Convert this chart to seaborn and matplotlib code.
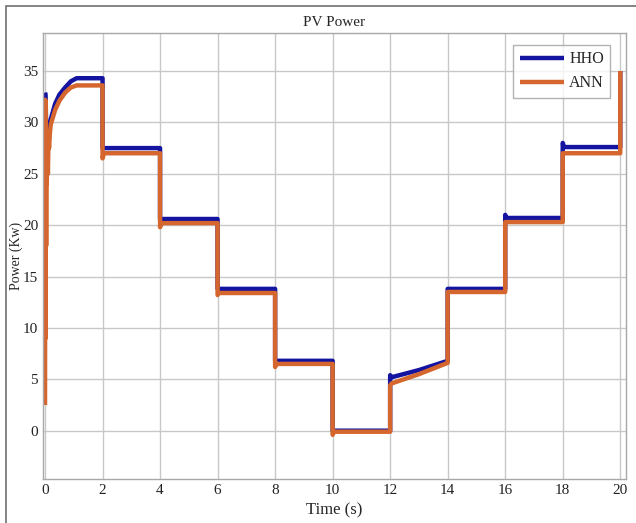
import numpy as np
import pandas as pd
import seaborn as sns
import matplotlib
matplotlib.use('Agg')
from matplotlib import pyplot as plt
from matplotlib.patches import Rectangle

# values (time in s, power in kW)
hho_t = [0.0, 0.02, 0.04, 0.08, 0.12, 0.16, 0.2, 0.35, 0.5, 0.7, 0.9, 1.1, 1.3, 2.0,
         2.0, 4.0, 4.0, 6.0, 6.0, 8.0, 8.0, 10.0, 10.0, 12.0, 12.0, 12.05, 13.0, 14.0,
         14.0, 16.0, 16.0, 16.05, 18.0, 18.0, 18.05, 20.0, 20.0]
hho_p = [32.9, 32.7, 29.3, 29.0, 29.2, 29.6, 30.3, 31.8, 32.7, 33.4, 34.0, 34.3, 34.3, 34.3,
         27.5, 27.5, 20.6, 20.6, 13.8, 13.8, 6.8, 6.8, 0.0, 0.0, 5.4, 5.2, 5.9, 6.8,
         13.8, 13.8, 21.0, 20.7, 20.7, 28.0, 27.6, 27.6, 35.0]

ann_t = [0.0, 0.01, 0.02, 0.03, 0.04, 0.05, 0.06, 0.08, 0.1, 0.12, 0.14, 0.17, 0.2, 0.35,
         0.5, 0.7, 0.9, 1.1, 1.3, 2.0, 2.0, 2.05, 4.0, 4.0, 4.05, 6.0, 6.0, 6.05, 8.0, 8.0,
         8.05, 10.0, 10.0, 10.05, 12.0, 12.0, 12.05, 13.0, 14.0, 14.0, 16.0, 16.0, 18.0,
         18.0, 20.0, 20.0]
ann_p = [2.5, 32.2, 9.0, 28.5, 18.0, 29.0, 24.0, 28.0, 25.0, 28.5, 27.5, 29.0, 29.8, 31.2,
         32.1, 32.9, 33.4, 33.6, 33.6, 33.6, 26.5, 27.0, 27.0, 19.8, 20.2, 20.2, 13.2, 13.4,
         13.4, 6.2, 6.5, 6.5, -0.4, -0.1, -0.1, 4.4, 4.6, 5.5, 6.6, 13.5, 13.5, 20.3, 20.3,
         27.0, 27.0, 35.0]

series = ['HHO', 'ANN']
colors = ['#1414a0', '#d4662e']

df = pd.concat([
    pd.DataFrame({'t': hho_t, 'p': hho_p, 'method': 'HHO'}),
    pd.DataFrame({'t': ann_t, 'p': ann_p, 'method': 'ANN'}),
], ignore_index=True)

sns.set_style('white')
plt.rcParams['font.family'] = ['Liberation Serif', 'DejaVu Serif']

fig = plt.figure(figsize=(6.36, 5.23), dpi=100)
# outer frame of the original screenshot (only left and top edges show)
fig.patches.append(Rectangle((6 / 636, -0.1), 1.2, 1 - 6 / 523 + 0.1, transform=fig.transFigure,
                             fill=False, edgecolor='#707070', linewidth=1.2))
ax = fig.add_axes([43 / 636, 44 / 523, 583 / 636, 446 / 523])

sns.lineplot(data=df, x='t', y='p', hue='method', hue_order=series, palette=colors,
             estimator=None, sort=False, linewidth=3.2, ax=ax)
for line in ax.lines:
    line.set_solid_capstyle('butt')

ax.set_xlim(-0.07, 20.2)
ax.set_ylim(-4.7, 38.7)
ax.set_xticks(range(0, 21, 2))
ax.set_yticks(range(0, 36, 5))
ax.grid(True, color='#c8c8c8', linewidth=1.0)
ax.set_axisbelow(True)
for s in ax.spines.values():
    s.set_color('#a8a8a8')
    s.set_linewidth(1.0)
ax.tick_params(labelsize=11, colors='#222222', length=3, direction='in', color='#a8a8a8')
ax.set_xlabel('Time (s)', fontsize=12, labelpad=4)
ax.set_ylabel('Power (Kw)', fontsize=10, labelpad=0)
ax.set_title('PV Power', fontsize=11, pad=5)

leg = ax.legend(loc='upper right', bbox_to_anchor=(0.973, 0.973), fontsize=11.5,
                frameon=True, fancybox=False, edgecolor='#a0a0a0', handlelength=2.8,
                handletextpad=0.3, borderpad=0.4, labelspacing=0.5, borderaxespad=0)
for h in leg.get_lines():
    h.set_linewidth(3.2)

fig.savefig('out.png', dpi=100)
